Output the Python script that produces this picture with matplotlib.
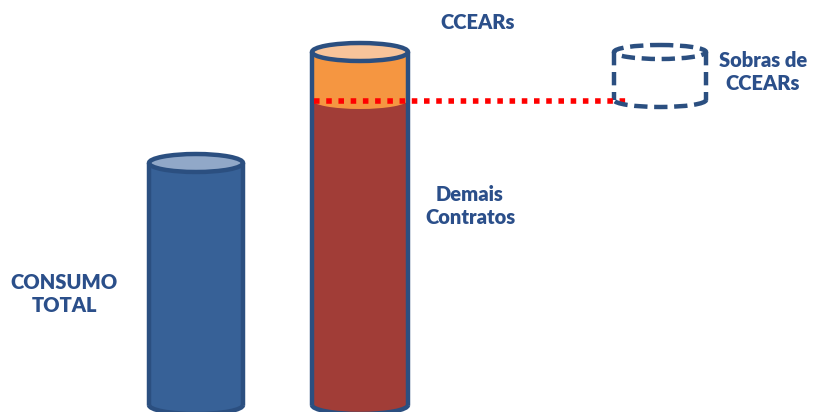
import matplotlib.pyplot as plt
from matplotlib.patches import Ellipse, Rectangle, Arc

# heights in picture units, measured from the baseline
labels = ['CONSUMO\nTOTAL', 'Demais\nContratos', 'CCEARs', 'Sobras de\nCCEARs']
consumo_total = 242
demais_contratos = 305
ccears = 48
sobras = 48

base = 405
ell_h = 18
edge = '#2B4F80'
txt = '#2B4F8A'
plt.rcParams['font.family'] = ['Lato', 'DejaVu Sans']

fig = plt.figure(figsize=(8.14, 4.12), dpi=100)
ax = fig.add_axes([0, 0, 1, 1])
ax.set_xlim(0, 814)
ax.set_ylim(412, 0)
ax.axis('off')


def body(x0, w, top, bottom, color, z):
    ax.add_patch(Rectangle((x0, top), w, bottom - top, fc=color, ec='none', zorder=z))
    ax.add_patch(Ellipse((x0 + w / 2, bottom), w, ell_h, fc=color, ec='none', zorder=z))


def outline(x0, w, top, bottom, z, ls='-'):
    ax.plot([x0, x0], [top, bottom], color=edge, lw=3.2, ls=ls, zorder=z, solid_capstyle='butt')
    ax.plot([x0 + w, x0 + w], [top, bottom], color=edge, lw=3.2, ls=ls, zorder=z, solid_capstyle='butt')
    ax.add_patch(Arc((x0 + w / 2, bottom), w, ell_h, theta1=0, theta2=180, color=edge, lw=3.2, ls=ls, zorder=z))


# consumo total
x1, w1 = 149, 94
t1 = base - consumo_total
body(x1, w1, t1, base, '#376197', 1)
outline(x1, w1, t1, base, 3)
ax.add_patch(Ellipse((x1 + w1 / 2, t1), w1, ell_h, fc='#91A8C8', ec=edge, lw=3.2, zorder=4))

# demais contratos + ccears
x2, w2 = 312, 96
t_red = base - demais_contratos
t_or = t_red - ccears
body(x2, w2, t_red, base, '#A13D37', 1)
body(x2, w2, t_or, t_red, '#F59641', 2)
ax.add_patch(Rectangle((x2, t_red - 1), w2, 3, fc='#F59641', ec='none', zorder=2))
outline(x2, w2, t_or, base, 3)
ax.add_patch(Ellipse((x2 + w2 / 2, t_or), w2, ell_h, fc='#F8C49A', ec=edge, lw=3.2, zorder=4))

# dotted line at level of demais contratos
ax.plot([x2 + 2, 626], [t_red + 1, t_red + 1], color='#FF0000', lw=4, ls=(0, (1, 1.2)), zorder=5)

# sobras (dashed)
x3, w3 = 614, 92
t3 = t_red - sobras
dash = (0, (3, 1.5))
ax.plot([x3, x3], [t3, t_red], color=edge, lw=3.2, ls=dash, zorder=3)
ax.plot([x3 + w3, x3 + w3], [t3, t_red], color=edge, lw=3.2, ls=dash, zorder=3)
ax.add_patch(Arc((x3 + w3 / 2, t_red), w3, ell_h - 4, theta1=0, theta2=180, color=edge, lw=3.2,
                 ls=dash, zorder=6))
ax.add_patch(Ellipse((x3 + w3 / 2, t3), w3, ell_h - 4, fc='none', ec=edge, lw=3.2, ls=dash, zorder=3))

# labels
kw = dict(color=txt, fontsize=14.5, fontweight='heavy', ha='center', va='center', linespacing=1.3)
ax.text(64, 294, labels[0], **kw)
ax.text(470, 206, labels[1], **kw)
ax.text(478, 22, labels[2], **kw)
ax.text(763, 72, labels[3], **kw)

plt.savefig('out.png', dpi=100)
